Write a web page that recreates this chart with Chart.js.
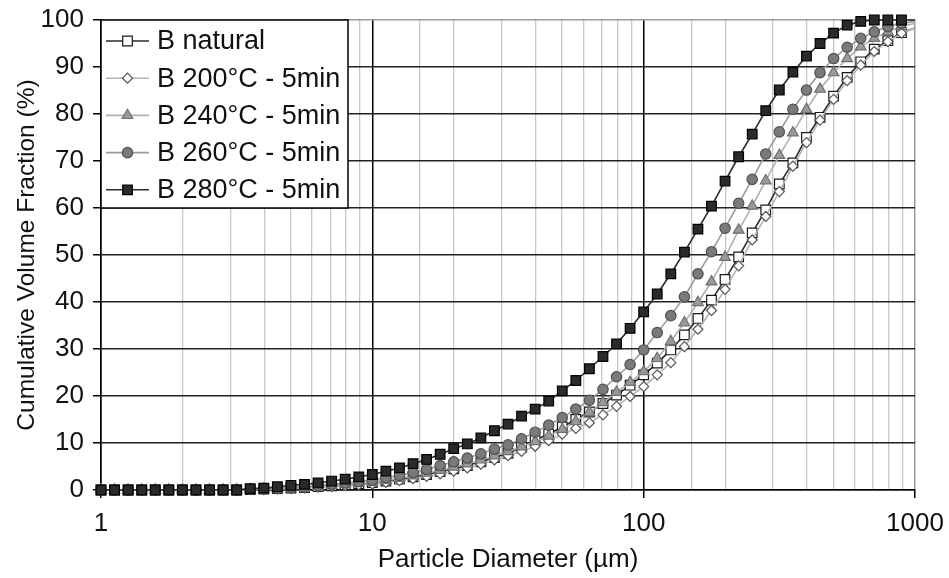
<!DOCTYPE html>
<html>
<head>
<meta charset="utf-8">
<script src="https://cdn.jsdelivr.net/npm/chart.js"></script>
<style>
  body { margin: 0; background: #fff; }
  #wrap { width: 949px; height: 578px; }
</style>
</head>
<body>
<div id="wrap"><canvas id="mycanvas" width="949" height="578"></canvas></div>
<script>
// particle diameters (µm), log spaced
var diameters = [1, 1.122, 1.259, 1.413, 1.585, 1.778, 1.995, 2.239, 2.512, 2.818,
  3.162, 3.548, 3.981, 4.467, 5.012, 5.623, 6.310, 7.079, 7.943, 8.913,
  10, 11.22, 12.59, 14.13, 15.85, 17.78, 19.95, 22.39, 25.12, 28.18,
  31.62, 35.48, 39.81, 44.67, 50.12, 56.23, 63.10, 70.79, 79.43, 89.13,
  100, 112.2, 125.9, 141.3, 158.5, 177.8, 199.5, 223.9, 251.2, 281.8,
  316.2, 354.8, 398.1, 446.7, 501.2, 562.3, 631.0, 707.9, 794.3, 891.3, 1000];

var labels = ["B natural", "B 200°C - 5min", "B 240°C - 5min", "B 260°C - 5min", "B 280°C - 5min"];

var bNatural = [0, 0, 0, 0, 0, 0, 0, 0, 0, 0,
  0, 0.1, 0.2, 0.3, 0.4, 0.5, 0.7, 0.9, 1.1, 1.3,
  1.6, 1.9, 2.3, 2.8, 3.3, 3.9, 4.5, 5.2, 6.0, 6.9,
  7.8, 9.1, 10.6, 11.9, 13.4, 15.0, 16.6, 18.4, 20.2, 22.3,
  24.5, 27.0, 29.8, 33.0, 36.5, 40.4, 44.8, 49.6, 54.7, 59.6,
  65.1, 69.6, 75.0, 79.3, 83.8, 87.8, 91.1, 93.8, 95.6, 97.3, 98.3];

var b200 = [0, 0, 0, 0, 0, 0, 0, 0, 0, 0,
  0, 0.1, 0.1, 0.2, 0.3, 0.4, 0.6, 0.7, 0.9, 1.1,
  1.3, 1.6, 2.0, 2.4, 2.9, 3.4, 4.0, 4.7, 5.5, 6.4,
  7.3, 8.2, 9.3, 10.5, 11.9, 13.1, 14.3, 16.0, 17.8, 19.9,
  22.0, 24.5, 27.1, 30.5, 34.2, 38.2, 42.7, 47.7, 53.2, 58.2,
  63.5, 68.9, 73.9, 78.7, 83.1, 87.1, 90.4, 93.3, 95.4, 97.2, 98.3];

var b240 = [0, 0, 0, 0, 0, 0, 0, 0, 0, 0,
  0, 0.1, 0.2, 0.3, 0.5, 0.6, 0.8, 1.0, 1.2, 1.5,
  1.7, 2.1, 2.5, 3.0, 3.6, 4.2, 4.9, 5.6, 6.4, 7.3,
  8.2, 9.2, 10.3, 11.5, 12.9, 14.6, 16.5, 18.6, 20.8, 22.9,
  25.2, 28.0, 31.6, 35.6, 39.9, 44.3, 49.5, 55.3, 60.4, 65.8,
  71.2, 76.0, 81.0, 85.3, 88.8, 91.8, 94.3, 96.1, 97.5, 98.6, 99.3];

var b260 = [0, 0, 0, 0, 0, 0, 0, 0, 0, 0,
  0, 0.2, 0.3, 0.4, 0.6, 0.7, 0.9, 1.2, 1.5, 1.8,
  2.1, 2.6, 3.1, 3.7, 4.4, 5.2, 6.0, 6.8, 7.7, 8.7,
  9.6, 10.9, 12.3, 13.8, 15.4, 17.2, 19.1, 21.4, 24.1, 26.7,
  29.8, 33.5, 37.1, 41.1, 46.0, 50.7, 55.7, 61.0, 66.1, 71.5,
  76.2, 81.0, 85.1, 88.8, 91.8, 94.2, 96.1, 97.5, 98.6, 99.3, 99.7];

var b280 = [0, 0, 0, 0, 0, 0, 0, 0, 0, 0,
  0, 0.3, 0.4, 0.7, 1.0, 1.2, 1.5, 1.9, 2.3, 2.8,
  3.3, 4.0, 4.7, 5.6, 6.5, 7.6, 8.8, 9.8, 11.1, 12.6,
  14.0, 15.7, 17.2, 18.9, 21.1, 23.3, 25.8, 28.4, 31.1, 34.4,
  37.9, 41.7, 46.0, 50.6, 55.5, 60.4, 65.7, 70.9, 75.7, 80.7,
  85.1, 88.9, 92.3, 95.0, 97.2, 98.9, 99.7, 100, 100, 100, 100];

var xTicks = [1, 10, 100, 1000];

var FONT = "'Liberation Sans', Arial, sans-serif";

function toPoints(vals) {
  var pts = [];
  for (var i in vals) {
    pts.push({ x: diameters[i], y: vals[i] });
  }
  return pts;
}

var styles = [
  { line: "#2b2b2b", fill: "#ffffff", border: "#1a1a1a", shape: "rect", r: 6.8 },
  { line: "#b4b4b4", fill: "#ffffff", border: "#555555", shape: "rectRot", r: 5 },
  { line: "#b0b0b0", fill: "#9a9a9a", border: "#707070", shape: "triangle", r: 6.2 },
  { line: "#9a9a9a", fill: "#7a7a7a", border: "#505050", shape: "circle", r: 5.2 },
  { line: "#2b2b2b", fill: "#2a2a2a", border: "#000000", shape: "rect", r: 6.8 }
];
var series = [bNatural, b200, b240, b260, b280];

var datasets = [];
for (var s = 0; s < series.length; s++) {
  (function (st, idx) {
    datasets.push({
      label: labels[idx],
      data: toPoints(series[idx]),
      borderColor: st.line,
      borderWidth: 1.6,
      backgroundColor: st.fill,
      pointBackgroundColor: st.fill,
      pointBorderColor: st.border,
      pointBorderWidth: 1.2,
      pointStyle: st.shape,
      pointRadius: function (ctx) { return ctx.dataIndex === diameters.length - 1 ? 0 : st.r; },
      pointHoverRadius: st.r,
      tension: 0,
      fill: false,
      clip: false,
      order: series.length - idx
    });
  })(styles[s], s);
}

function drawMarker(ctx, st, x, y) {
  var r = st.r;
  ctx.save();
  ctx.fillStyle = st.fill;
  ctx.strokeStyle = st.border;
  ctx.lineWidth = 1.2;
  ctx.beginPath();
  if (st.shape === "rect") {
    var h = r * Math.SQRT1_2;
    ctx.rect(x - h, y - h, 2 * h, 2 * h);
  } else if (st.shape === "rectRot") {
    ctx.moveTo(x - r, y); ctx.lineTo(x, y - r); ctx.lineTo(x + r, y); ctx.lineTo(x, y + r); ctx.closePath();
  } else if (st.shape === "triangle") {
    var a = Math.PI / 2, k = Math.PI * 2 / 3;
    ctx.moveTo(x - Math.cos(a) * r, y - Math.sin(a) * r);
    ctx.lineTo(x - Math.cos(a + k) * r, y - Math.sin(a + k) * r);
    ctx.lineTo(x - Math.cos(a + 2 * k) * r, y - Math.sin(a + 2 * k) * r);
    ctx.closePath();
  } else {
    ctx.arc(x, y, r, 0, Math.PI * 2);
  }
  ctx.fill();
  ctx.stroke();
  ctx.restore();
}

// legend box inside the plot, top-left
var boxLegend = {
  id: "boxLegend",
  afterDraw: function (chart) {
    var ctx = chart.ctx;
    var area = chart.chartArea;
    var x0 = area.left, y0 = area.top, w = 247, h = 188;
    ctx.save();
    ctx.fillStyle = "#fff";
    ctx.fillRect(x0, y0, w, h);
    ctx.strokeStyle = "#000";
    ctx.lineWidth = 1.5;
    ctx.strokeRect(x0, y0, w, h);
    ctx.font = "27px " + FONT;
    ctx.textBaseline = "middle";
    for (var i = 0; i < labels.length; i++) {
      var yy = y0 + 21 + i * 37.2;
      ctx.strokeStyle = styles[i].line;
      ctx.lineWidth = 1.6;
      ctx.beginPath();
      ctx.moveTo(x0 + 5, yy);
      ctx.lineTo(x0 + 48, yy);
      ctx.stroke();
      drawMarker(ctx, styles[i], x0 + 26.5, yy);
      ctx.fillStyle = "#111";
      ctx.fillText(labels[i], x0 + 56, yy + 1);
    }
    ctx.restore();
  }
};

function isDecade(v) { return xTicks.indexOf(v) >= 0; }

var ctx = document.getElementById("mycanvas");

var LineGraph = new Chart(ctx, {
  type: "line",
  data: { datasets: datasets },
  plugins: [boxLegend],
  options: {
    responsive: false,
    animation: false,
    layout: { padding: { top: 20, right: 34, left: 0, bottom: 0 } },
    plugins: {
      legend: { display: false },
      tooltip: { enabled: false }
    },
    scales: {
      x: {
        type: "logarithmic",
        min: 1,
        max: 1000,
        border: { color: "#000", width: 1.5 },
        grid: {
          color: function (c) {
            var v = c.tick.value;
            if (v === 1000) return "#9a9a9a";
            return isDecade(v) ? "#000" : "#c8c8c8";
          },
          lineWidth: function (c) { return isDecade(c.tick.value) ? 1.5 : 1.3; },
          tickLength: 8,
          tickColor: function (c) { return isDecade(c.tick.value) ? "#000" : "rgba(0,0,0,0)"; }
        },
        ticks: {
          autoSkip: false,
          maxRotation: 0,
          padding: 10,
          color: "#111",
          font: { family: FONT, size: 26 },
          callback: function (value) { return isDecade(value) ? String(value) : ""; }
        },
        title: {
          display: true,
          text: "Particle Diameter (µm)",
          color: "#111",
          font: { family: FONT, size: 26 },
          padding: { top: 0, bottom: 3 }
        },
        afterFit: function (scale) {
          scale.height = 88;
          scale.paddingLeft = 0;
          scale.paddingRight = 0;
        }
      },
      y: {
        min: 0,
        max: 100,
        border: { color: "#000", width: 1.5 },
        grid: {
          color: function (c) { return c.tick.value === 100 ? "#9a9a9a" : "#222"; },
          lineWidth: 1.5,
          tickLength: 8,
          tickColor: "#000"
        },
        ticks: {
          stepSize: 10,
          padding: 9,
          color: "#111",
          font: { family: FONT, size: 26 }
        },
        title: {
          display: true,
          text: "Cumulative Volume Fraction (%)",
          color: "#111",
          font: { family: FONT, size: 24.5 },
          padding: { top: 13, bottom: 0 }
        },
        afterFit: function (scale) {
          scale.width = 101;
          scale.paddingTop = 0;
          scale.paddingBottom = 0;
        }
      }
    }
  }
});
</script>
</body>
</html>
